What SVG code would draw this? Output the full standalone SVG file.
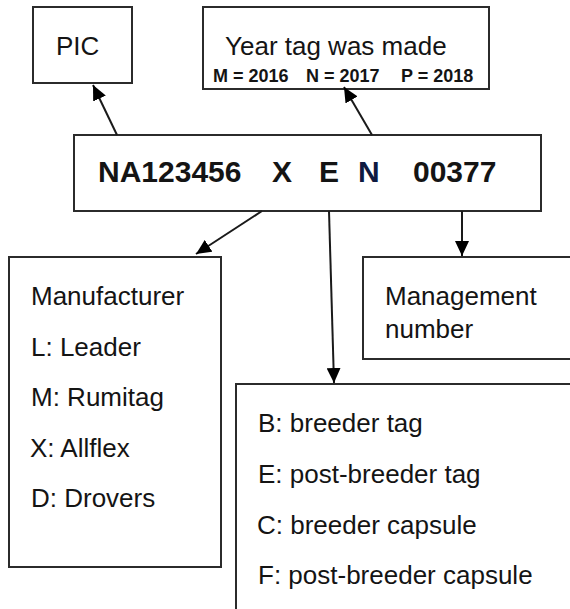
<svg xmlns="http://www.w3.org/2000/svg" width="570" height="609" viewBox="0 0 570 609">
<defs>
<style>
.box{fill:#fff;stroke:#2b2b2b;stroke-width:2}
.t{font-family:"Liberation Sans",Arial,sans-serif;font-size:26px;fill:#141414}
.b{font-family:"Liberation Sans",Arial,sans-serif;font-weight:bold;fill:#141414}
.c{stroke:#1a1a1a;stroke-width:2;fill:none;marker-end:url(#ah)}
</style>
<marker id="ah" markerUnits="userSpaceOnUse" markerWidth="16" markerHeight="14" refX="15" refY="7" orient="auto">
<path d="M0,0 L15,7 L0,14 z" fill="#000"/>
</marker>
</defs>
<rect width="570" height="609" fill="#fff"/>
<g id="pic">
<rect class="box" x="33" y="7" width="99" height="76"/>
<text class="t" x="56" y="55">PIC</text>
</g>
<g id="year">
<rect class="box" x="203" y="7" width="286" height="82"/>
<text class="t" x="225" y="55">Year tag was made</text>
<text class="b" font-size="18" y="82" fill="#1a1d2e"><tspan x="213">M = 2016</tspan><tspan x="306">N = 2017</tspan><tspan x="401">P = 2018</tspan></text>
</g>
<g id="main">
<rect class="box" x="74" y="135" width="467" height="76"/>
<text class="b" font-size="30" y="182"><tspan x="98">NA123456</tspan><tspan x="272">X</tspan><tspan x="319">E</tspan><tspan x="358" fill="#0e1a40">N</tspan><tspan x="413">00377</tspan></text>
</g>
<g id="manufacturer">
<rect class="box" x="9" y="257" width="212" height="310"/>
<text class="t" x="31" y="305">Manufacturer</text>
<text class="t" x="31" y="355.5">L: Leader</text>
<text class="t" x="31" y="406">M: Rumitag</text>
<text class="t" x="30" y="456.5">X: Allflex</text>
<text class="t" x="31" y="507">D: Drovers</text>
</g>
<g id="management">
<rect class="box" x="363" y="257" width="220" height="102"/>
<text class="t" x="385" y="305">Management</text>
<text class="t" x="385" y="338">number</text>
</g>
<g id="type">
<rect class="box" x="236" y="384" width="350" height="250"/>
<text class="t" x="258" y="432">B: breeder tag</text>
<text class="t" x="258" y="483">E: post-breeder tag</text>
<text class="t" x="257" y="534">C: breeder capsule</text>
<text class="t" x="258" y="584">F: post-breeder capsule</text>
</g>
<g id="connectors">
<line class="c" x1="117" y1="135" x2="93" y2="85"/>
<line class="c" x1="372" y1="135" x2="344" y2="87"/>
<line class="c" x1="262" y1="211" x2="196" y2="254"/>
<line class="c" x1="329" y1="211" x2="334" y2="383"/>
<line class="c" x1="462" y1="211" x2="462" y2="256"/>
</g>
</svg>
